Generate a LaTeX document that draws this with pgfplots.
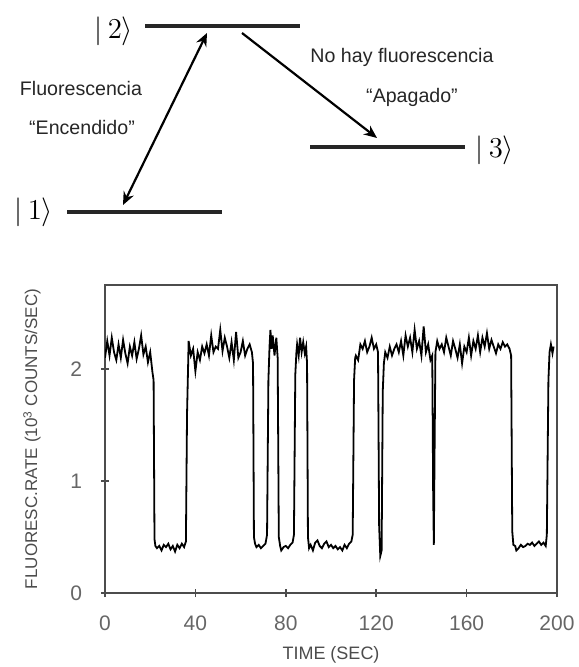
\documentclass[border=0pt]{standalone}
\usepackage{pgfplots}
\pgfplotsset{compat=1.18}
\usetikzlibrary{arrows.meta}
\usepackage{fontspec}
\setmainfont{Liberation Sans}

\begin{document}
\begin{tikzpicture}
\path[use as bounding box] (0,0) rectangle (289pt,-333.5pt);

% energy level diagram, pixel coordinates of the reference
\begin{scope}[x=0.5pt, y=-0.5pt]
  \draw[line width=1.7pt, black!85] (145,26) -- (300,26);
  \draw[line width=1.7pt, black!85] (67,212) -- (222,212);
  \draw[line width=1.7pt, black!85] (310,147) -- (465,147);
  \draw[line width=1.1pt, {Stealth[length=6.5pt,width=5.5pt]}-{Stealth[length=6.5pt,width=5.5pt]}] (123,205) -- (207,33);
  \draw[line width=1.1pt, -{Stealth[length=6.5pt,width=5.5pt]}] (242,33) -- (377,138);
  \node at (114,31) {\fontsize{15}{17}\selectfont $|\,2\rangle$};
  \node at (34,212) {\fontsize{15}{17}\selectfont $|\,1\rangle$};
  \node at (495,150) {\fontsize{15}{17}\selectfont $|\,3\rangle$};
  \node[text=black!85, font=\fontsize{9.8}{12}\selectfont] at (81,88) {Fluorescencia};
  \node[text=black!85, font=\fontsize{9.8}{12}\selectfont] at (82,127) {“Encendido”};
  \node[text=black!85, font=\fontsize{9.8}{12}\selectfont] at (402,57) {No hay fluorescencia};
  \node[text=black!85, font=\fontsize{9.8}{12}\selectfont] at (412,97) {“Apagado”};
\end{scope}

\begin{axis}[
    scale only axis,
    width=226pt, height=154pt,
    anchor=south west, at={(52.5pt,-296.5pt)},
    xmin=0, xmax=200, ymin=0, ymax=2.75,
    xtick={0,40,80,120,160,200},
    ytick={0,1,2},
    axis line style={draw=black!70, line width=0.9pt},
    tick style={draw=black!70, line width=0.8pt},
    tick align=center,
    major tick length=4pt,
    xtick pos=bottom, ytick pos=left,
    /pgf/number format/assume math mode=true,
    tick label style={text=black!60, font=\fontsize{10.5}{12}\selectfont},
    xticklabel style={yshift=-6pt},
    yticklabel style={xshift=-6pt},
    xlabel={TIME (SEC)},
    ylabel={FLUORESC.RATE (10\textsuperscript{3} COUNTS/SEC)},
    xlabel style={at={(axis description cs:0.5,-0.201)}, anchor=center,
      text=black!70, font=\fontsize{9}{11}\selectfont},
    ylabel style={at={(axis description cs:-0.1615,0.5)}, anchor=center,
      text=black!70, font=\fontsize{8.5}{10}\selectfont},
]
\addplot[black, line width=0.9pt, no markers, sharp plot] coordinates {
 (0,2.10) (1,2.25) (2,2.12) (3,2.28) (4,2.15) (5,2.08) (6,2.22) (7,2.10)
 (8,2.26) (9,2.14) (10,2.05) (11,2.20) (12,2.12) (13,2.24) (14,2.09) (15,2.18)
 (16,2.30) (17,2.13) (18,2.20) (19,2.06) (20,2.15) (21,1.97) (21.5,1.90)
 (21.9,0.48) (22.3,0.42) (23,0.40) (24,0.42) (25,0.38) (26,0.43) (27,0.41)
 (28,0.44) (29,0.39) (30,0.42) (31,0.37) (32,0.43) (33,0.40) (34,0.44)
 (35,0.41) (35.8,0.46) (36.3,1.60) (36.8,2.05)
 (37,2.25) (38,2.12) (39,2.18) (40,1.98) (41,2.15) (42,2.08) (43,2.20)
 (44,2.14) (45,2.22) (46,2.12) (47,2.30) (48,2.15) (49,2.20) (50,2.18)
 (51,2.35) (52,2.16) (53,2.28) (54,2.20) (55,2.10) (56,2.24) (57,2.08)
 (58,2.33) (59,2.10) (60,2.15) (61,2.25) (62,2.12) (63,2.18) (64,2.22)
 (65,2.15) (65.5,2.05)
 (65.9,0.50) (66.4,0.44) (67,0.41) (68,0.43) (69,0.40) (70,0.42) (71,0.44)
 (71.7,0.52) (72.3,1.90) (72.8,2.20)
 (73.2,2.35) (73.7,2.18) (74.2,2.30) (75,2.12) (75.8,2.28) (76.4,2.10)
 (76.9,0.50) (77.5,0.42) (78,0.38) (79,0.41) (80,0.42) (81,0.40) (82,0.43)
 (83,0.45) (83.6,0.52) (84.2,1.95) (84.7,2.15)
 (85,2.22) (85.7,2.12) (86.3,2.28) (87,2.15) (87.7,2.24) (88.4,2.14) (89,2.20)
 (89.4,2.05) (89.8,0.50)
 (90.3,0.40) (91,0.43) (92,0.38) (93,0.45) (94,0.47) (95,0.42) (96,0.40)
 (97,0.44) (98,0.46) (99,0.41) (100,0.43) (101,0.40) (102,0.42) (103,0.39)
 (104,0.41) (105,0.38) (106,0.43) (107,0.40) (108,0.44) (109,0.46)
 (109.6,0.52) (110.2,1.90) (110.7,2.10)
 (111,2.12) (112,2.08) (113,2.22) (114,2.18) (115,2.25) (116,2.15) (117,2.20)
 (118,2.28) (119,2.18) (120,2.22) (120.8,2.15)
 (121.3,0.60) (121.8,0.33) (122.4,0.38) (122.9,1.80) (123.4,2.05)
 (124,2.15) (125,2.10) (126,2.20) (127,2.12) (128,2.18) (129,2.22) (130,2.15)
 (131,2.25) (132,2.12) (133,2.30) (134,2.20) (135,2.28) (136,2.15) (137,2.35)
 (138,2.18) (139,2.25) (140,2.12) (141,2.38) (142,2.15) (143,2.22) (144,2.08)
 (144.8,2.12) (145.2,0.90) (145.5,0.43) (145.8,1.20) (146.2,2.15)
 (147,2.25) (148,2.18) (149,2.22) (150,2.15) (151,2.28) (152,2.20) (153,2.12)
 (154,2.25) (155,2.18) (156,2.10) (157,2.22) (158,2.05) (159,2.20) (160,2.15)
 (161,2.28) (162,2.12) (163,2.25) (164,2.18) (165,2.30) (166,2.15) (167,2.28)
 (168,2.20) (169,2.32) (170,2.18) (171,2.26) (172,2.20) (173,2.14) (174,2.22)
 (175,2.18) (176,2.24) (177,2.20) (178,2.22) (179,2.18) (179.7,2.12)
 (180.2,0.55) (180.7,0.43) (181.5,0.42) (182,0.38) (183,0.40) (184,0.43)
 (185,0.41) (186,0.42) (187,0.44) (188,0.43) (189,0.45) (190,0.42) (191,0.44)
 (192,0.46) (193,0.43) (194,0.45) (195,0.42) (195.5,0.52) (196.2,1.90)
 (196.7,2.15) (197.3,2.22) (198,2.14) (198.5,2.20)
};
\end{axis}
\end{tikzpicture}
\end{document}
